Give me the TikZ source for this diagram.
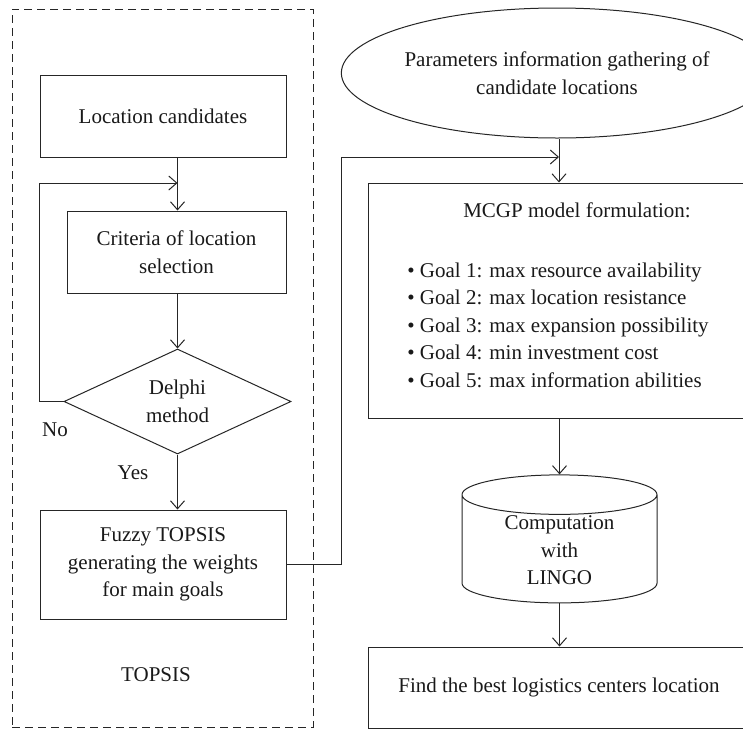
\documentclass[tikz,border=0pt]{standalone}
\usepackage{fontspec}
\setmainfont{Liberation Serif}
\usetikzlibrary{shapes.geometric,arrows.meta}

\begin{document}
\begin{tikzpicture}[x=0.5pt,y=-0.5pt,
  every node/.style={font=\fontsize{10.5}{13.8}\selectfont,inner sep=0pt,text=black!90},
  box/.style={draw=black!85,line width=0.5pt,rectangle,align=center},
  arr/.style={draw=black!85,line width=0.5pt,-{Straight Barb[length=4pt,width=7pt]}}]
\useasboundingbox (0,0) rectangle (743,729);
\clip (0,0) rectangle (743,729);
\node [draw=black!85,line width=0.5pt,dash pattern=on 4pt off 2.5pt,minimum width=150.5pt,minimum height=359pt] (frame) at (162.5,368) {};
\node [box,minimum width=123pt,minimum height=41pt] (loc) at (163,116) {Location candidates};
\node [box,minimum width=109.5pt,minimum height=41pt] (crit) at (176.5,252) {Criteria of location\\selection};
\node [diamond,draw=black!85,line width=0.5pt,aspect=2.16,minimum width=113.5pt,minimum height=52.5pt,align=center] (delphi) at (177.5,401.5) {Delphi\\method};
\node [box,minimum width=123pt,minimum height=54.5pt] (fuzzy) at (163,564.5) {Fuzzy TOPSIS\\generating the weights\\for main goals};
\node (topsis) at (156,675) {TOPSIS};
\node (no) at (55,430) {No};
\node (yes) at (133,473) {Yes};
\coordinate (merge) at (177.5,183);
\draw [arr] (loc.south -| delphi.north) -- (crit.north -| delphi.north);
\draw [arr] (crit.south -| delphi.north) -- (delphi.north);
\draw [arr] (delphi.west) -- (delphi.west -| loc.west) |- (merge);
\draw [arr] (delphi.south) -- (delphi.south |- fuzzy.north);
\node [ellipse,draw=black!85,line width=0.5pt,minimum width=187pt,minimum height=65pt,align=center] (param) at (557,73) {Parameters information gathering of\\candidate locations};
\node [box,minimum width=191pt,minimum height=117.5pt] (mcgp) at (559,300.5) {};
\node (title) at (577,210) {MCGP model formulation:};
\node [align=left,font=\fontsize{10.5}{13.75}\selectfont] (goals) at (558,325) {\textbullet{} Goal 1: max resource availability\\\textbullet{} Goal 2: max location resistance\\\textbullet{} Goal 3: max expansion possibility\\\textbullet{} Goal 4: min investment cost\\\textbullet{} Goal 5: max information abilities};
\node [cylinder,shape border rotate=90,draw=black!85,line width=0.5pt,aspect=0.36,minimum width=97.5pt,minimum height=64pt] (lingo) at (559.5,549) {\raisebox{-4pt}[14pt][14pt]{\begin{tabular}{@{}c@{}}Computation\\with\\LINGO\end{tabular}}};
\node [box,minimum width=191pt,minimum height=40.5pt] (find) at (559,687.5) {Find the best logistics centers location};
\coordinate (join) at (559,157);
\coordinate (bend) at (341,157);
\draw [arr] (fuzzy.east) -| (bend) -- (join);
\draw [arr] (param.south -| join) -- (join |- mcgp.north);
\draw [arr] (mcgp.south -| lingo.north) -- (lingo.north);
\draw [arr] (lingo.south) -- (lingo.south |- find.north);
\end{tikzpicture}
\end{document}
